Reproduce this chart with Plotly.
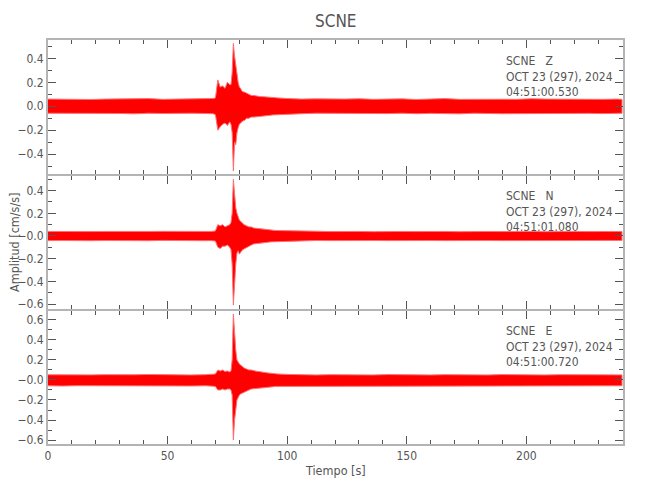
import plotly.graph_objects as go

# ---- data: time knots [s] and envelope (max/min) amplitudes ----
t_knots = [0, 6, 12, 18, 24, 30, 36, 42, 48, 54, 60, 66,
           68, 69, 70, 71, 72, 73, 74, 75, 76,
           76.5, 77, 77.5, 78, 78.5, 79, 79.5, 80, 80.5, 81, 81.5, 82,
           83, 84, 85, 86, 87, 88, 89, 90, 91, 92, 93, 94, 95, 96,
           100, 106, 112, 118, 124, 130, 136, 142, 148, 154, 160, 166, 172,
           178, 184, 190, 196, 202, 208, 214, 220, 226, 232, 238, 240]

z_upper = [0.060, 0.058, 0.062, 0.057, 0.060, 0.062, 0.059, 0.064, 0.058, 0.060, 0.057, 0.060,
           0.060, 0.065, 0.070, 0.220, 0.160, 0.170, 0.150, 0.200, 0.180,
           0.180, 0.280, 0.525, 0.420, 0.340, 0.250, 0.200, 0.160, 0.150, 0.130, 0.120, 0.120,
           0.110, 0.100, 0.090, 0.090, 0.085, 0.085, 0.080, 0.080, 0.078, 0.075, 0.072, 0.070, 0.070, 0.070,
           0.065, 0.060, 0.062, 0.058, 0.060, 0.063, 0.058, 0.060, 0.062, 0.057, 0.060, 0.064, 0.058,
           0.060, 0.062, 0.059, 0.058, 0.063, 0.060, 0.058, 0.061, 0.060, 0.058, 0.060, 0.058]
z_lower = [-0.058, -0.060, -0.057, -0.062, -0.059, -0.060, -0.063, -0.058, -0.060, -0.061, -0.058, -0.060,
           -0.060, -0.062, -0.070, -0.200, -0.170, -0.150, -0.140, -0.160, -0.130,
           -0.150, -0.220, -0.540, -0.300, -0.320, -0.220, -0.180, -0.150, -0.140, -0.130, -0.120, -0.120,
           -0.100, -0.100, -0.090, -0.090, -0.088, -0.085, -0.085, -0.080, -0.080, -0.078, -0.075, -0.072, -0.070, -0.070,
           -0.065, -0.062, -0.058, -0.060, -0.063, -0.058, -0.060, -0.061, -0.058, -0.062, -0.059, -0.060, -0.063,
           -0.058, -0.060, -0.062, -0.059, -0.060, -0.058, -0.062, -0.060, -0.059, -0.061, -0.060, -0.058]

n_upper = [0.040, 0.038, 0.041, 0.039, 0.040, 0.042, 0.038, 0.040, 0.041, 0.039, 0.040, 0.041,
           0.040, 0.042, 0.045, 0.100, 0.090, 0.100, 0.080, 0.090, 0.100,
           0.120, 0.200, 0.500, 0.360, 0.250, 0.200, 0.170, 0.140, 0.130, 0.120, 0.110, 0.100,
           0.090, 0.080, 0.080, 0.070, 0.068, 0.065, 0.062, 0.060, 0.058, 0.055, 0.052, 0.050, 0.049, 0.048,
           0.045, 0.040, 0.042, 0.039, 0.041, 0.040, 0.038, 0.042, 0.040, 0.039, 0.041, 0.040, 0.038,
           0.041, 0.040, 0.039, 0.042, 0.040, 0.038, 0.041, 0.040, 0.039, 0.041, 0.040, 0.040]
n_lower = [-0.041, -0.040, -0.039, -0.042, -0.040, -0.041, -0.040, -0.042, -0.039, -0.041, -0.040, -0.042,
           -0.041, -0.042, -0.045, -0.100, -0.110, -0.090, -0.090, -0.080, -0.100,
           -0.120, -0.250, -0.610, -0.450, -0.250, -0.150, -0.130, -0.160, -0.150, -0.130, -0.120, -0.110,
           -0.100, -0.090, -0.080, -0.070, -0.068, -0.065, -0.062, -0.060, -0.058, -0.055, -0.052, -0.050, -0.049, -0.048,
           -0.045, -0.042, -0.040, -0.041, -0.039, -0.042, -0.040, -0.041, -0.039, -0.042, -0.040, -0.041, -0.040,
           -0.042, -0.040, -0.041, -0.039, -0.040, -0.042, -0.040, -0.041, -0.040, -0.039, -0.041, -0.040]

e_upper = [0.052, 0.050, 0.054, 0.051, 0.053, 0.050, 0.052, 0.055, 0.051, 0.052, 0.050, 0.053,
           0.055, 0.058, 0.060, 0.100, 0.090, 0.100, 0.085, 0.090, 0.080,
           0.090, 0.200, 0.660, 0.450, 0.300, 0.200, 0.170, 0.160, 0.150, 0.140, 0.130, 0.120,
           0.110, 0.100, 0.100, 0.090, 0.088, 0.085, 0.080, 0.078, 0.075, 0.070, 0.068, 0.065, 0.062, 0.060,
           0.056, 0.052, 0.050, 0.053, 0.051, 0.052, 0.050, 0.054, 0.051, 0.052, 0.050, 0.053, 0.051,
           0.052, 0.050, 0.054, 0.051, 0.052, 0.050, 0.053, 0.051, 0.052, 0.050, 0.052, 0.051]
e_lower = [-0.058, -0.060, -0.057, -0.059, -0.058, -0.061, -0.058, -0.060, -0.057, -0.059, -0.060, -0.058,
           -0.060, -0.062, -0.065, -0.100, -0.100, -0.090, -0.100, -0.090, -0.090,
           -0.100, -0.150, -0.600, -0.400, -0.300, -0.200, -0.170, -0.150, -0.140, -0.130, -0.130, -0.120,
           -0.110, -0.100, -0.090, -0.090, -0.088, -0.085, -0.082, -0.080, -0.076, -0.072, -0.070, -0.068, -0.064, -0.062,
           -0.060, -0.058, -0.060, -0.057, -0.059, -0.058, -0.060, -0.058, -0.057, -0.060, -0.058, -0.059, -0.058,
           -0.060, -0.058, -0.059, -0.057, -0.060, -0.058, -0.059, -0.060, -0.058, -0.059, -0.058, -0.058]

channels = ["Z", "N", "E"]
start_times = ["04:51:00.530", "04:51:01.080", "04:51:00.720"]
date_label = "OCT 23 (297), 2024"
station = "SCNE"

z_ticks = [0.4, 0.2, 0.0, -0.2, -0.4]
z_ticktext = ["0.4", "0.2", "0.0", "\u22120.2", "\u22120.4"]
n_ticks = [0.4, 0.2, 0.0, -0.2, -0.4, -0.6]
n_ticktext = ["0.4", "0.2", "\u22120.0", "\u22120.2", "\u22120.4", "\u22120.6"]
e_ticks = [0.6, 0.4, 0.2, 0.0, -0.2, -0.4, -0.6]
e_ticktext = ["0.6", "0.4", "0.2", "\u22120.0", "\u22120.2", "\u22120.4", "\u22120.6"]
x_ticks = [0, 50, 100, 150, 200]

# ---- figure ----
FONT = "DejaVu Sans Condensed, Liberation Sans Narrow, Roboto Condensed, Arial Narrow, sans-serif"
TXT = "#555555"
AXC = "#b4b4b4"
RED = "#ff0000"
TICKFS = 12
INFOFS = 12
G = 1.0 / 404  # one pixel in paper units (plot area is 404 px tall)

# the page body adds an 8px offset; margins are set so the plot area lands at
# x 48..623, y 40..444 in the 650x500 window
fig = go.Figure()
panels = [
    (z_upper, z_lower, "y", z_ticks, z_ticktext, [-0.565, 0.553], [0.6658 + G, 1.0]),
    (n_upper, n_lower, "y2", n_ticks, n_ticktext, [-0.644, 0.529], [0.3317 + G, 0.6658 - G]),
    (e_upper, e_lower, "y3", e_ticks, e_ticktext, [-0.64, 0.69], [0.0, 0.3317 - G]),
]
xnames = ["x", "x2", "x3"]
for i, (up, lo, yname, tv, tt, yr, dom) in enumerate(panels):
    xs = t_knots + t_knots[::-1]
    ys = up + lo[::-1]
    fig.add_trace(go.Scatter(x=xs, y=ys, mode="lines", fill="toself",
                             fillcolor=RED, line=dict(color="#ff7070", width=1),
                             xaxis=xnames[i], yaxis=yname, hoverinfo="skip",
                             showlegend=False))
    sfx = "" if i == 0 else str(i + 1)
    fig.layout["xaxis" + sfx] = dict(
        domain=[0, 1], anchor=yname, range=[0, 240.4],
        tickvals=x_ticks, showticklabels=(i == 2), automargin=False,
        ticks="inside", ticklen=8, tickwidth=1, tickcolor=TXT,
        minor=dict(dtick=10, tick0=0, ticks="inside", ticklen=4, tickcolor=TXT, tickwidth=1),
        showline=True, linecolor=AXC, linewidth=2, mirror="allticks",
        showgrid=False, zeroline=False,
        tickfont=dict(family=FONT, size=TICKFS, color=TXT),
    )
    fig.layout["yaxis" + sfx] = dict(
        domain=dom, anchor=xnames[i], range=yr, automargin=False,
        tickvals=tv, ticktext=tt,
        ticks="inside", ticklen=8, tickwidth=1, tickcolor=TXT,
        minor=dict(dtick=0.1, tick0=0, ticks="inside", ticklen=4, tickcolor=TXT, tickwidth=1),
        showline=True, linecolor=AXC, linewidth=2, mirror="allticks",
        showgrid=False, zeroline=False,
        tickfont=dict(family=FONT, size=TICKFS, color=TXT),
    )

annotations = []
# channel info text (one block per panel)
info_top = [53, 188, 323]
for i in range(3):
    lines = [station + "\u00a0\u00a0\u00a0" + channels[i], date_label, start_times[i]]
    annotations.append(dict(
        text="<br>".join(lines), xref="paper", yref="paper",
        x=(505 - 48) / 575, y=1 - (info_top[i] - 40) / 404,
        xanchor="left", yanchor="top", align="left", showarrow=False,
        borderpad=0,
        font=dict(family=FONT, size=INFOFS, color=TXT)))
annotations.append(dict(text="Amplitud [cm/s/s]", xref="paper", yref="paper",
                        x=(14 - 48) / 575, y=0.5, textangle=-90, showarrow=False,
                        xanchor="center", yanchor="middle",
                        font=dict(family=FONT, size=12.5, color=TXT)))
annotations.append(dict(text="Tiempo [s]", xref="paper", yref="paper",
                        x=0.5, y=1 - (470 - 40) / 404, showarrow=False,
                        xanchor="center", yanchor="middle",
                        font=dict(family=FONT, size=12.5, color=TXT)))
annotations.append(dict(text=station, xref="paper", yref="paper",
                        x=0.5, y=1 + (40 - 21) / 404, showarrow=False,
                        xanchor="center", yanchor="middle",
                        font=dict(family=FONT, size=17, color=TXT)))

fig.update_layout(
    width=650, height=500,
    margin=dict(l=40, r=35, t=32, b=64, autoexpand=False),
    paper_bgcolor="white", plot_bgcolor="white",
    annotations=annotations,
    showlegend=False,
)

fig.write_html("out.html")
